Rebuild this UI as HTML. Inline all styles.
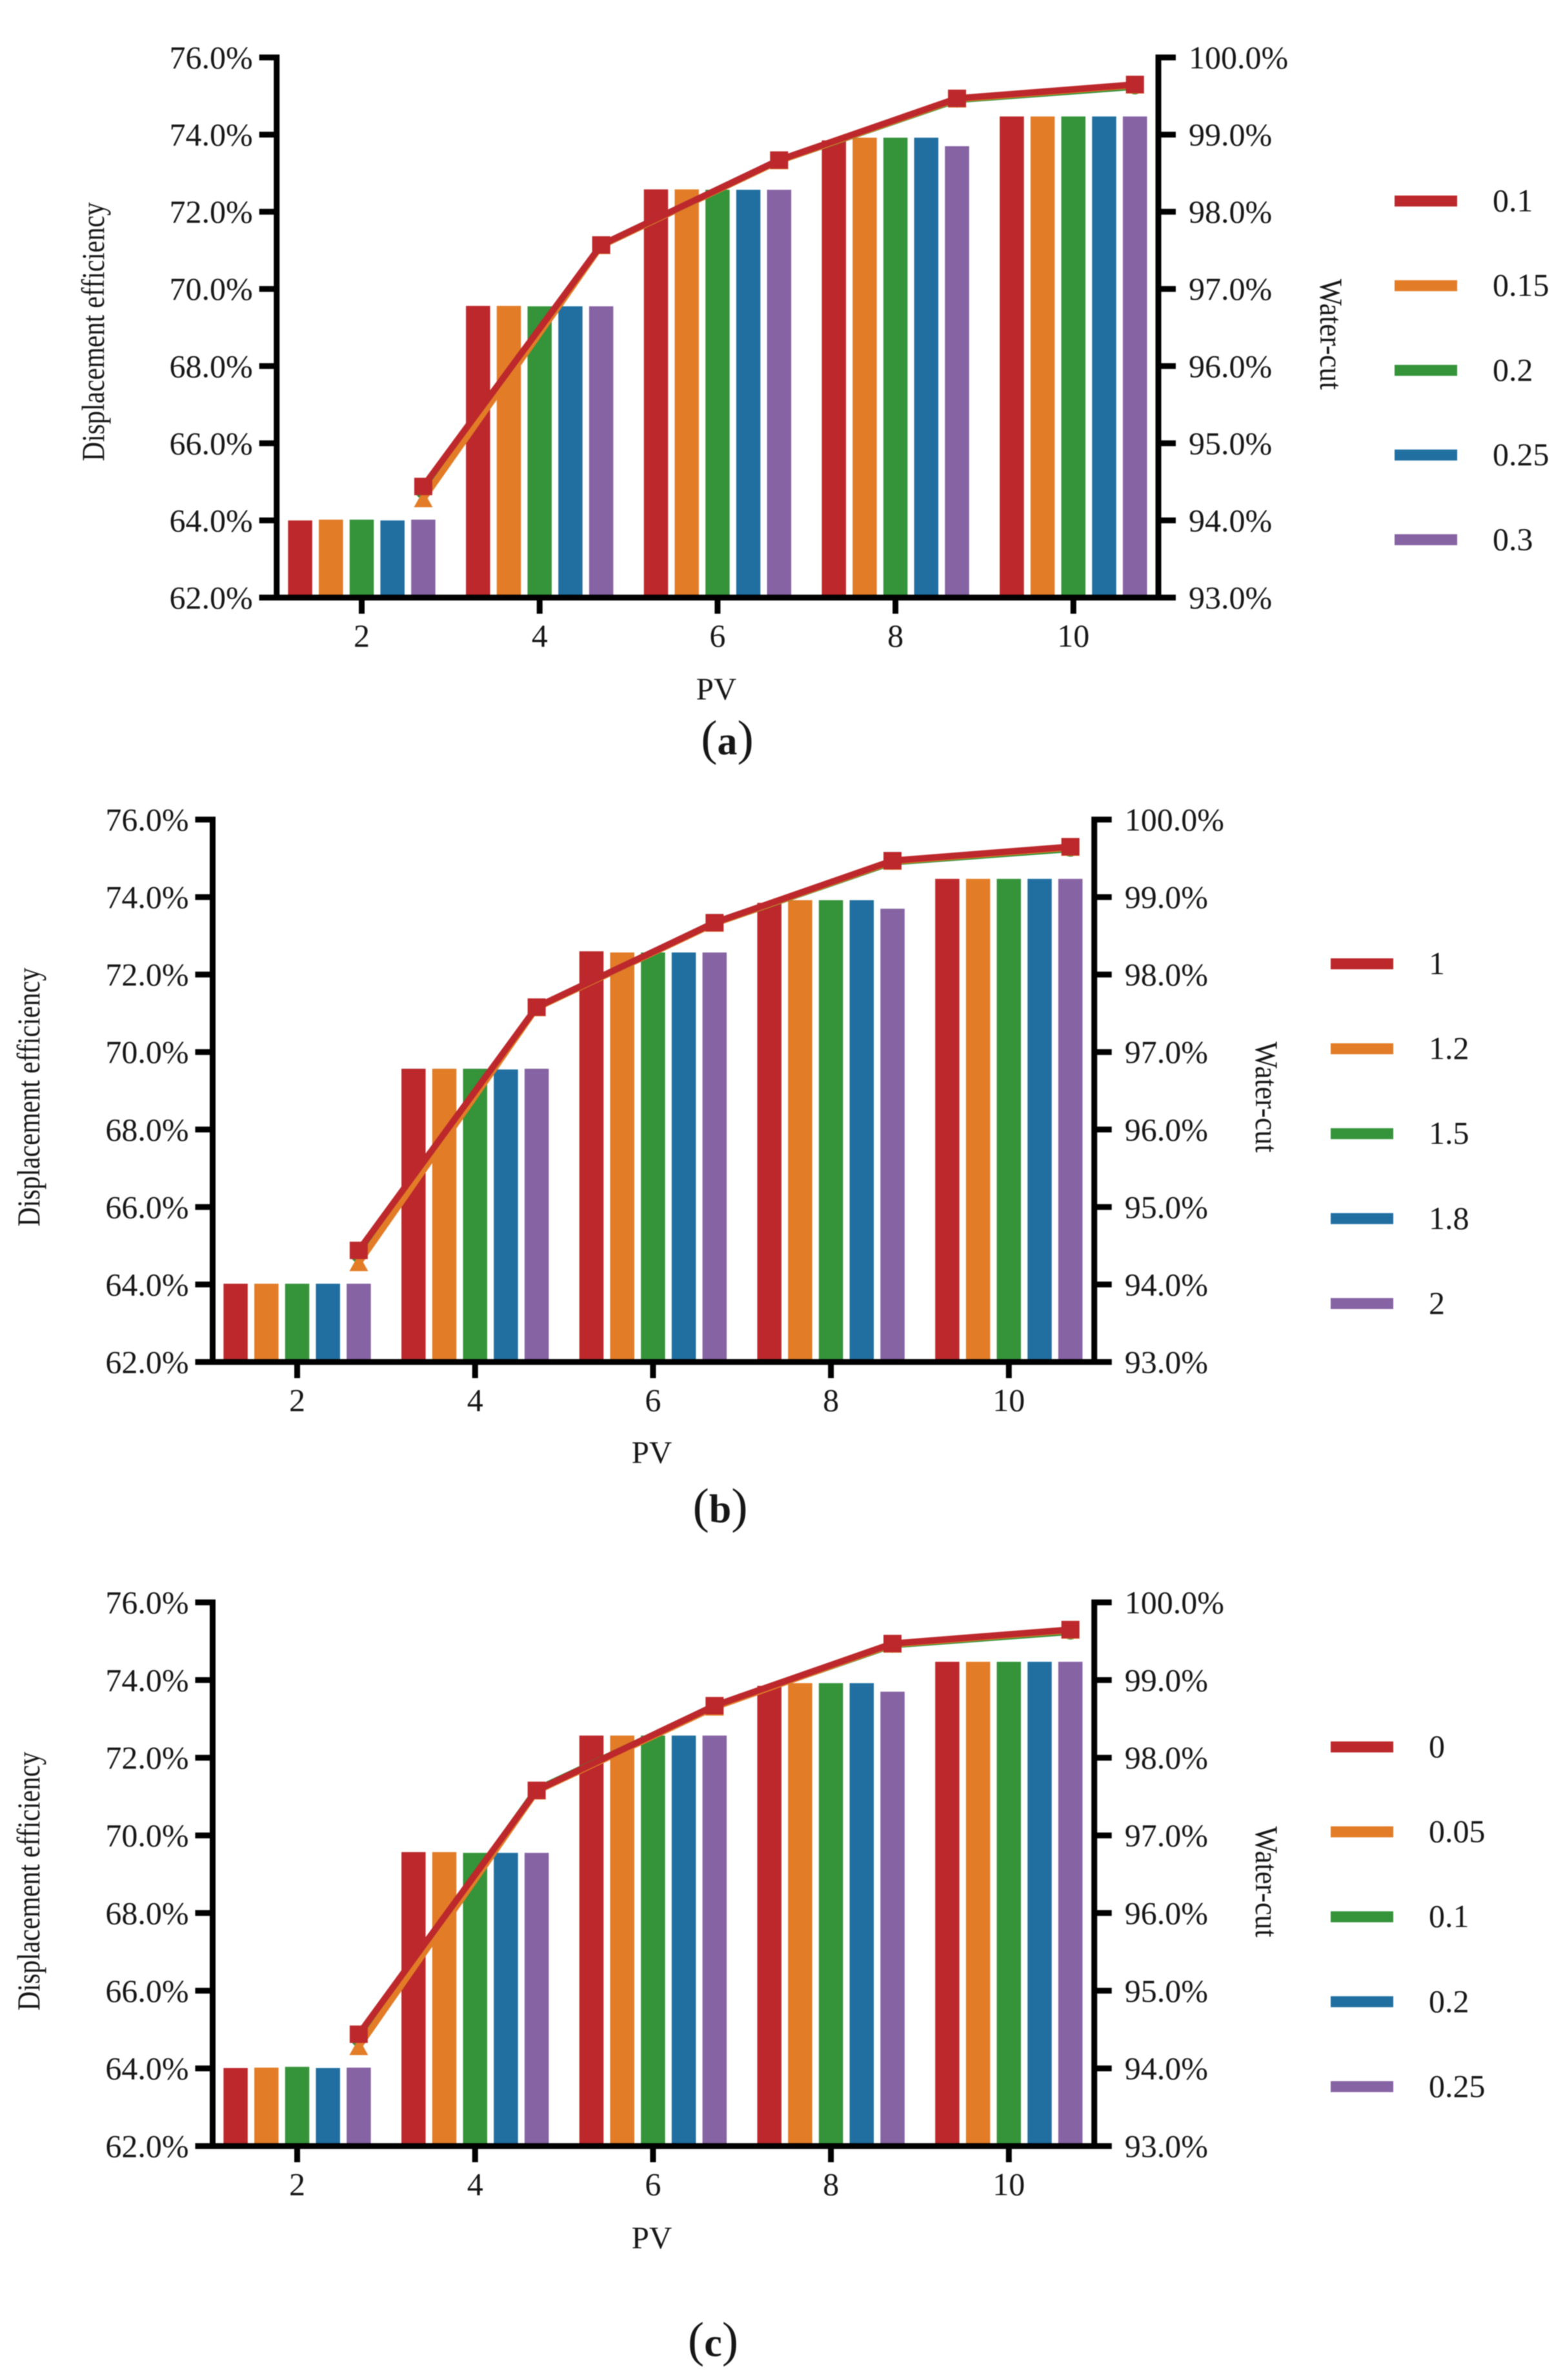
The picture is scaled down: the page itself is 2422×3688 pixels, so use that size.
<!DOCTYPE html>
<html lang="en">
<head>
<meta charset="utf-8">
<title>Displacement efficiency and water-cut vs PV</title>
<style>
  html, body { margin: 0; padding: 0; background: #ffffff; }
  svg { display: block; filter: blur(0.7px); }
  text { font-family: "Liberation Serif", "Times New Roman", serif; fill: #161616; }
</style>
</head>
<body>
<svg id="figure" xmlns="http://www.w3.org/2000/svg" width="2422" height="3688" viewBox="0 0 2422 3688">
  <rect x="0" y="0" width="2422" height="3688" fill="#ffffff"/>

  <g id="panel-a"></g>
  <g id="panel-b"></g>
  <g id="panel-c"></g>

  <text transform="translate(161,514) rotate(-90)" font-size="50" text-anchor="middle" textLength="401" lengthAdjust="spacingAndGlyphs">Displacement efficiency</text>
  <text transform="translate(2046,518) rotate(90)" font-size="50" text-anchor="middle" textLength="172" lengthAdjust="spacingAndGlyphs">Water-cut</text>
  <text x="1110" y="1084" font-size="49" text-anchor="middle">PV</text>
  <text x="1127" y="1169" text-anchor="middle"><tspan font-size="76">(</tspan><tspan font-size="62" font-weight="bold">a</tspan><tspan font-size="76">)</tspan></text>

  <text transform="translate(61,1700) rotate(-90)" font-size="50" text-anchor="middle" textLength="401" lengthAdjust="spacingAndGlyphs">Displacement efficiency</text>
  <text transform="translate(1946,1700) rotate(90)" font-size="50" text-anchor="middle" textLength="172" lengthAdjust="spacingAndGlyphs">Water-cut</text>
  <text x="1010" y="2267" font-size="49" text-anchor="middle">PV</text>
  <text x="1116" y="2359" text-anchor="middle"><tspan font-size="76">(</tspan><tspan font-size="62" font-weight="bold">b</tspan><tspan font-size="76">)</tspan></text>

  <text transform="translate(61,2915) rotate(-90)" font-size="50" text-anchor="middle" textLength="401" lengthAdjust="spacingAndGlyphs">Displacement efficiency</text>
  <text transform="translate(1946,2916) rotate(90)" font-size="50" text-anchor="middle" textLength="172" lengthAdjust="spacingAndGlyphs">Water-cut</text>
  <text x="1010" y="3484" font-size="49" text-anchor="middle">PV</text>
  <text x="1105" y="3651" text-anchor="middle"><tspan font-size="76">(</tspan><tspan font-size="62" font-weight="bold">c</tspan><tspan font-size="76">)</tspan></text>
</svg>

<script>
// ---- data ----
const categories = [2, 4, 6, 8, 10];
const leftTicks = [62, 64, 66, 68, 70, 72, 74, 76];
const rightTicks = [93, 94, 95, 96, 97, 98, 99, 100];
const seriesColors = ['#BC282B', '#E27C27', '#35933A', '#206FA0', '#8663A3'];

const legendA = ['0.1', '0.15', '0.2', '0.25', '0.3'];
const legendB = ['1', '1.2', '1.5', '1.8', '2'];
const legendC = ['0', '0.05', '0.1', '0.2', '0.25'];

const barsA1 = [64.00, 69.56, 72.58, 73.85, 74.47];
const barsA2 = [64.02, 69.56, 72.58, 73.92, 74.47];
const barsA3 = [64.02, 69.55, 72.57, 73.92, 74.47];
const barsA4 = [64.00, 69.55, 72.57, 73.92, 74.47];
const barsA5 = [64.02, 69.55, 72.57, 73.70, 74.47];

const barsB1 = [64.02, 69.57, 72.60, 73.85, 74.47];
const barsB2 = [64.02, 69.57, 72.57, 73.92, 74.47];
const barsB3 = [64.02, 69.57, 72.57, 73.92, 74.47];
const barsB4 = [64.02, 69.55, 72.57, 73.92, 74.47];
const barsB5 = [64.02, 69.57, 72.57, 73.70, 74.47];

const barsC1 = [64.01, 69.57, 72.57, 73.85, 74.47];
const barsC2 = [64.02, 69.57, 72.57, 73.92, 74.47];
const barsC3 = [64.04, 69.55, 72.57, 73.92, 74.47];
const barsC4 = [64.01, 69.55, 72.57, 73.92, 74.47];
const barsC5 = [64.02, 69.55, 72.57, 73.70, 74.47];

const linesA1 = [94.44, 97.57, 98.67, 99.47, 99.65];
const linesA2 = [94.28, 97.56, 98.66, 99.46, 99.64];
const linesA3 = [94.38, 97.56, 98.66, 99.45, 99.62];
const linesA4 = [94.40, 97.56, 98.67, 99.46, 99.64];
const linesA5 = [94.42, 97.57, 98.67, 99.46, 99.64];

const linesB1 = [94.44, 97.58, 98.67, 99.47, 99.65];
const linesB2 = [94.28, 97.57, 98.66, 99.46, 99.64];
const linesB3 = [94.38, 97.57, 98.66, 99.45, 99.62];
const linesB4 = [94.40, 97.57, 98.67, 99.46, 99.64];
const linesB5 = [94.42, 97.58, 98.67, 99.46, 99.64];

const linesC1 = [94.44, 97.58, 98.67, 99.47, 99.65];
const linesC2 = [94.28, 97.57, 98.65, 99.46, 99.64];
const linesC3 = [94.38, 97.59, 98.66, 99.45, 99.62];
const linesC4 = [94.40, 97.57, 98.67, 99.46, 99.64];
const linesC5 = [94.42, 97.58, 98.67, 99.46, 99.64];

const seriesA = { bars: [barsA1, barsA2, barsA3, barsA4, barsA5], lines: [linesA1, linesA2, linesA3, linesA4, linesA5], legend: legendA };
const seriesB = { bars: [barsB1, barsB2, barsB3, barsB4, barsB5], lines: [linesB1, linesB2, linesB3, linesB4, linesB5], legend: legendB };
const seriesC = { bars: [barsC1, barsC2, barsC3, barsC4, barsC5], lines: [linesC1, linesC2, linesC3, linesC4, linesC5], legend: legendC };

// ---- layout ----
const SVGNS = 'http://www.w3.org/2000/svg';

function make(parent, tag, attrs) {
  const el = document.createElementNS(SVGNS, tag);
  for (const k in attrs) el.setAttribute(k, attrs[k]);
  parent.appendChild(el);
  return el;
}

function drawPanel(id, s, box) {
  const root = document.getElementById(id);
  const yLeft = v => box.bottom - (v - leftTicks[0]) / (leftTicks[leftTicks.length - 1] - leftTicks[0]) * (box.bottom - box.top);
  const yRight = v => box.bottom - (v - rightTicks[0]) / (rightTicks[rightTicks.length - 1] - rightTicks[0]) * (box.bottom - box.top);
  const xCat = i => box.firstX + i * 275.7;
  const step = 47.7, barW = 37.5, ink = 9;
  const base = box.bottom - ink / 2;

  // bars
  s.bars.forEach((vals, si) => {
    vals.forEach((v, ci) => {
      const cx = xCat(ci) + (si - 2) * step;
      const r = make(root, 'rect', { x: cx - barW / 2, y: yLeft(v), width: barW, height: base - yLeft(v), fill: seriesColors[si] });
      
      
    });
  });

  // water-cut lines: drawn back to front so the first series ends on top
  const order = [4, 3, 2, 1, 0];
  order.forEach(si => {
    const vals = s.lines[si];
    const pts = vals.map((v, ci) => (xCat(ci) + 2 * step) + ',' + yRight(v)).join(' ');
    const line = make(root, 'polyline', { points: pts, fill: 'none', stroke: seriesColors[si], 'stroke-width': 10, 'stroke-linejoin': 'miter' });
    
    
    vals.forEach((v, ci) => {
      const mx = xCat(ci) + 2 * step, my = yRight(v);
      let m;
      if (si === 1) {
        m = make(root, 'polygon', { points: (mx - 14.5) + ',' + (my + 13) + ' ' + (mx + 14.5) + ',' + (my + 13) + ' ' + mx + ',' + (my - 13), fill: seriesColors[si] });
      } else if (si === 0) {
        m = make(root, 'rect', { x: mx - 14, y: my - 13.5, width: 28, height: 27, fill: seriesColors[si] });
      } else {
        m = make(root, 'circle', { cx: mx, cy: my, r: 12, fill: seriesColors[si] });
      }
      
      
    });
  });

  // axes
  const axisAttrs = { stroke: '#000000', 'stroke-width': ink, fill: 'none' };
  const leftAxis = make(root, 'line', Object.assign({ x1: box.left, x2: box.left, y1: box.top - ink / 2, y2: box.bottom + ink / 2 }, axisAttrs));
  
  
  const rightAxis = make(root, 'line', Object.assign({ x1: box.right, x2: box.right, y1: box.top - ink / 2, y2: box.bottom + ink / 2 }, axisAttrs));
  
  
  const xAxis = make(root, 'line', Object.assign({ x1: box.left - 27, x2: box.right + 27, y1: box.bottom, y2: box.bottom }, axisAttrs));
  
  

  leftTicks.forEach(t => {
    const y = yLeft(t);
    const tick = make(root, 'line', Object.assign({ x1: box.left - 27, x2: box.left, y1: y, y2: y }, axisAttrs));
    
    
    const label = make(root, 'text', { x: box.left - 37, y: y + 17, 'font-size': 50, 'text-anchor': 'end' });
    label.textContent = t.toFixed(1) + '%';
    
    
  });

  rightTicks.forEach(t => {
    const y = yRight(t);
    const tick = make(root, 'line', Object.assign({ x1: box.right, x2: box.right + 27, y1: y, y2: y }, axisAttrs));
    
    
    const label = make(root, 'text', { x: box.right + 47, y: y + 17, 'font-size': 50, 'text-anchor': 'start' });
    label.textContent = t.toFixed(1) + '%';
    
    
  });

  categories.forEach((c, i) => {
    const x = xCat(i);
    const tick = make(root, 'line', Object.assign({ x1: x, x2: x, y1: box.bottom, y2: box.bottom + 25 }, axisAttrs));
    
    
    const label = make(root, 'text', { x: x, y: box.bottom + 76, 'font-size': 50, 'text-anchor': 'middle' });
    label.textContent = String(c);
    
    
  });

  // legend
  s.legend.forEach((name, i) => {
    const y = box.legendY + i * box.legendStep;
    const sw = make(root, 'rect', { x: box.legendX, y: y - 8.5, width: 97, height: 17, fill: seriesColors[i] });
    
    
    const t = make(root, 'text', { x: box.legendX + 152, y: y + 16, 'font-size': 50 });
    t.textContent = name;
    
    
  });
}

drawPanel('panel-a', seriesA, { left: 428.7, right: 1795, top: 89, bottom: 926, firstX: 560.5, legendX: 2161, legendY: 311.5, legendStep: 131.2 });
drawPanel('panel-b', seriesB, { left: 329.5, right: 1695.7, top: 1270, bottom: 2110.5, firstX: 460.5, legendX: 2062, legendY: 1493.5, legendStep: 131.6 });
drawPanel('panel-c', seriesC, { left: 329.5, right: 1695.7, top: 2483, bottom: 3325.5, firstX: 460.5, legendX: 2062, legendY: 2707, legendStep: 131.6 });
</script>
</body>
</html>
